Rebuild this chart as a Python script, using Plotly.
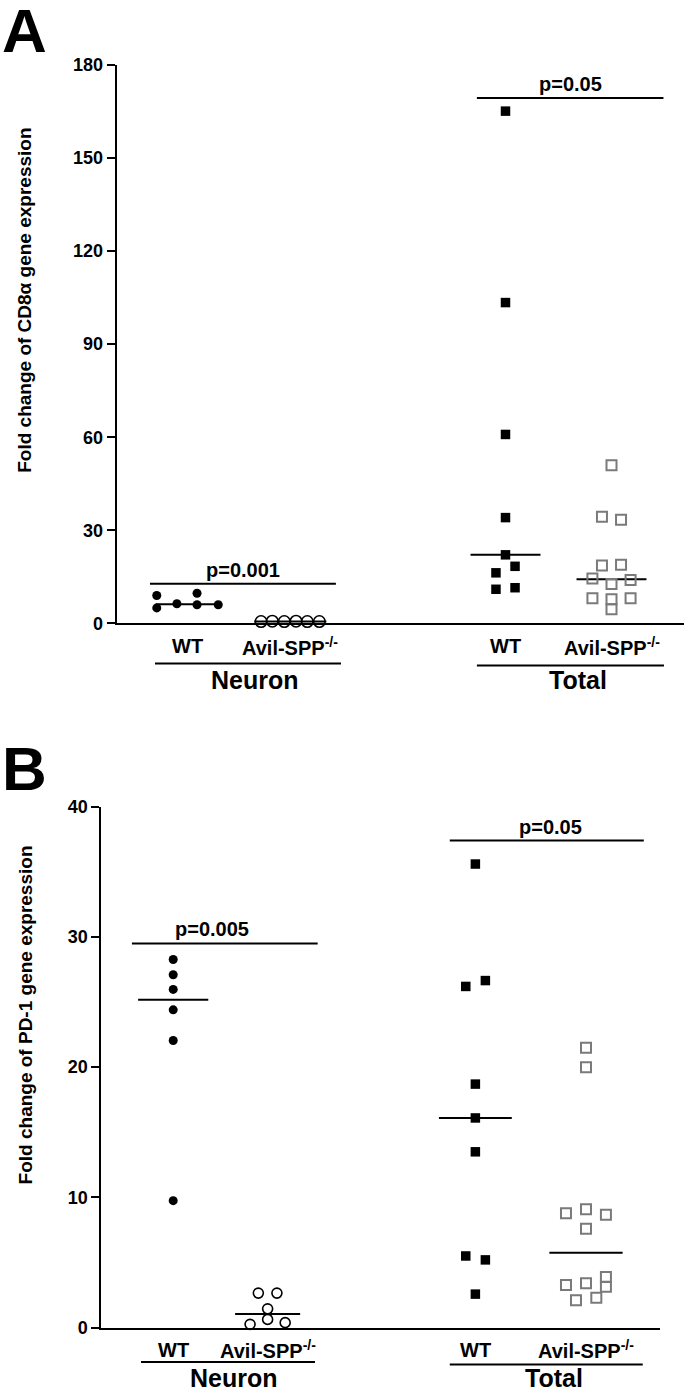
import numpy as np
import plotly.graph_objects as go

W, H = 685, 1399

# ---------------- data ----------------
genotypes = ["WT", "Avil-SPP<sup>-/-</sup>"]
tissues = ["Neuron", "Total"]

# Panel A: CD8a
a_neuron_wt = [9.0, 5.0, 6.35, 9.7, 6.0, 6.0]
a_neuron_spp = [0.6, 0.7, 0.6, 0.7, 0.6, 0.6]
a_total_wt = [165.1, 103.4, 60.9, 34.1, 22.1, 18.4, 16.3, 11.0, 11.5]
a_total_spp = [51.0, 34.4, 33.4, 18.7, 18.9, 14.5, 14.0, 12.7, 8.1, 7.8, 8.1, 4.6]
a_pvals = ["p=0.001", "p=0.05"]
a_bracket_y = [12.8, 169.3]
a_yticks = [0, 30, 60, 90, 120, 150, 180]
a_title = "Fold change of CD8α gene expression"

# Panel B: PD-1
b_neuron_wt = [28.27, 27.1, 25.97, 24.4, 22.05, 9.75]
b_neuron_spp = [0.25, 0.63, 0.38, 1.44, 2.65, 2.65]
b_total_wt = [35.6, 26.2, 26.65, 18.7, 16.1, 13.5, 5.5, 5.2, 2.57]
b_total_spp = [21.5, 20.0, 8.78, 9.09, 8.67, 7.6, 3.88, 3.13, 3.4, 3.27, 2.09, 2.29]
b_pvals = ["p=0.005", "p=0.05"]
b_bracket_y = [29.5, 37.4]
b_yticks = [0, 10, 20, 30, 40]
b_title = "Fold change of PD-1 gene expression"

# ---------------- layout / style ----------------
FONT = "Liberation Sans, Arial, Helvetica, sans-serif"
GRAY = "#7a7a7a"

def py(p):
    return 1 - p / H

def px(p):
    return p / W

panels = {
    "A": dict(xa="x", ya="y", xaxis="xaxis", yaxis="yaxis",
              px0=81.5, pscale=106.0, left=116.7, right=684.0,
              ytop=55.7, ybot=622.3, yrange=[0, 180], yticks=a_yticks,
              pos=[1.0, 1.97, 4.0, 5.0],
              series=[a_neuron_wt, a_neuron_spp, a_total_wt, a_total_spp],
              offs=[[-0.29, -0.29, -0.10, 0.09, 0.09, 0.29],
                    [-0.276, -0.17, -0.057, 0.054, 0.16, 0.274],
                    [0, 0, 0, 0, 0, 0.09, -0.09, -0.09, 0.09],
                    [0, -0.09, 0.09, -0.09, 0.09, -0.18, 0.18, 0, -0.18, 0, 0.18, 0]],
              hw=[0.30, 0.34, 0.33, 0.33],
              osize=11.5,
              brackets=[(0.646, 2.40), (3.73, 5.49)], bpx=[1.52, 4.61],
              pvals=a_pvals, by=a_bracket_y,
              under=[(0.693, 2.448, 663), (3.73, 5.495, 665)],
              lab_y=645.5, tis_y=680, tis_x=[1.64, 4.68],
              title=a_title, title_x=25, title_y=295,
              letter="A", letter_y=21),
    "B": dict(xa="x2", ya="y2", xaxis="xaxis2", yaxis="yaxis2",
              px0=70.0, pscale=103.2, left=101.4, right=660.4,
              ytop=808.3, ybot=1336.7, yrange=[0, 40], yticks=b_yticks,
              pos=[1.0, 1.915, 3.928, 5.0],
              series=[b_neuron_wt, b_neuron_spp, b_total_wt, b_total_spp],
              offs=[[0, 0, 0, 0, 0, 0],
                    [-0.17, 0, 0.17, 0, -0.09, 0.09],
                    [0, -0.093, 0.097, 0, 0, 0, -0.093, 0.097, 0],
                    [0, 0, -0.194, 0, 0.193, 0, 0.193, 0.193, 0, -0.194, -0.097, 0.1]],
              hw=[0.34, 0.315, 0.353, 0.355],
              osize=10,
              brackets=[(0.60, 2.40), (3.68, 5.56)], bpx=[1.38, 4.66],
              pvals=b_pvals, by=b_bracket_y,
              under=[(0.688, 2.374, 1371.7), (3.68, 5.55, 1374.2)],
              lab_y=1359, tis_y=1388, tis_x=[1.59, 4.69],
              title=b_title, title_x=25, title_y=1020,
              letter="B", letter_y=769),
}

fig = go.Figure()
shapes = []
annotations = []
layout_axes = {}

for key, P in panels.items():
    xa, ya = P["xa"], P["ya"]
    styles = [
        dict(symbol="circle", size=9, color="black", line=dict(width=0)),
        dict(symbol="circle-open", size=P["osize"], color="black", line=dict(width=1.6, color="black")),
        dict(symbol="square", size=9.5, color="black", line=dict(width=0)),
        dict(symbol="square-open", size=10, color=GRAY, line=dict(width=2, color=GRAY)),
    ]
    for i, vals in enumerate(P["series"]):
        xs = [P["pos"][i] + o for o in P["offs"][i]]
        fig.add_trace(go.Scatter(x=xs, y=vals, mode="markers", marker=styles[i],
                                 xaxis=xa, yaxis=ya, cliponaxis=False,
                                 showlegend=False, hoverinfo="skip"))
        med = float(np.median(vals))
        shapes.append(dict(type="line", xref=xa, yref=ya,
                           x0=P["pos"][i] - P["hw"][i], x1=P["pos"][i] + P["hw"][i],
                           y0=med, y1=med, line=dict(color="black", width=2), layer="below"))
    for (x0, x1), yv, txt, tx in zip(P["brackets"], P["by"], P["pvals"], P["bpx"]):
        shapes.append(dict(type="line", xref=xa, yref=ya, x0=x0, x1=x1, y0=yv, y1=yv,
                           line=dict(color="black", width=2)))
        annotations.append(dict(xref=xa, yref=ya, x=tx, y=yv, text=txt, showarrow=False,
                                yanchor="bottom", yshift=1,
                                font=dict(family=FONT, size=20, color="black", weight="bold")))
    for i in range(4):
        annotations.append(dict(xref=xa, yref="paper", x=P["pos"][i], y=py(P["lab_y"]),
                                text=genotypes[i % 2], showarrow=False, yanchor="middle",
                                font=dict(family=FONT, size=20, color="black", weight="bold")))
    for (u0, u1, uy), tx, tname in zip(P["under"], P["tis_x"], tissues):
        shapes.append(dict(type="line", xref=xa, yref="paper", x0=u0, x1=u1,
                           y0=py(uy), y1=py(uy), line=dict(color="black", width=2)))
        annotations.append(dict(xref=xa, yref="paper", x=tx, y=py(P["tis_y"]), text=tname,
                                showarrow=False, yanchor="middle",
                                font=dict(family=FONT, size=25, color="black", weight="bold")))
    annotations.append(dict(xref="paper", yref="paper", x=px(P["title_x"]), y=py(P["title_y"]),
                            text=P["title"], textangle=-90, showarrow=False,
                            xanchor="center", yanchor="middle",
                            font=dict(family=FONT, size=19, color="black", weight="bold")))
    annotations.append(dict(xref="paper", yref="paper", x=px(0), y=py(P["letter_y"]),
                            text=P["letter"], showarrow=False, xanchor="left", yanchor="middle",
                            font=dict(family=FONT, size=62, color="black", weight="bold")))

    xr = [(P["left"] - P["px0"]) / P["pscale"], (P["right"] - P["px0"]) / P["pscale"]]
    layout_axes[P["xaxis"]] = dict(domain=[px(P["left"]), px(P["right"])], range=xr,
                                   anchor=ya, showline=True, linecolor="black", linewidth=2,
                                   showticklabels=False, ticks="", showgrid=False, zeroline=False)
    layout_axes[P["yaxis"]] = dict(domain=[py(P["ybot"]), py(P["ytop"])], range=P["yrange"],
                                   anchor=xa, showline=True, linecolor="black", linewidth=2,
                                   tickvals=P["yticks"], ticks="outside", ticklen=8, tickwidth=2,
                                   tickcolor="black",
                                   tickfont=dict(family=FONT, size=18, color="black", weight="bold"),
                                   showgrid=False, zeroline=False)

fig.update_layout(width=W, height=H, margin=dict(l=0, r=0, t=0, b=0),
                  paper_bgcolor="white", plot_bgcolor="white",
                  shapes=shapes, annotations=annotations, showlegend=False,
                  **layout_axes)

fig.write_html("out.html", config={"displayModeBar": False},
               post_script="document.body.style.margin='0px';")
